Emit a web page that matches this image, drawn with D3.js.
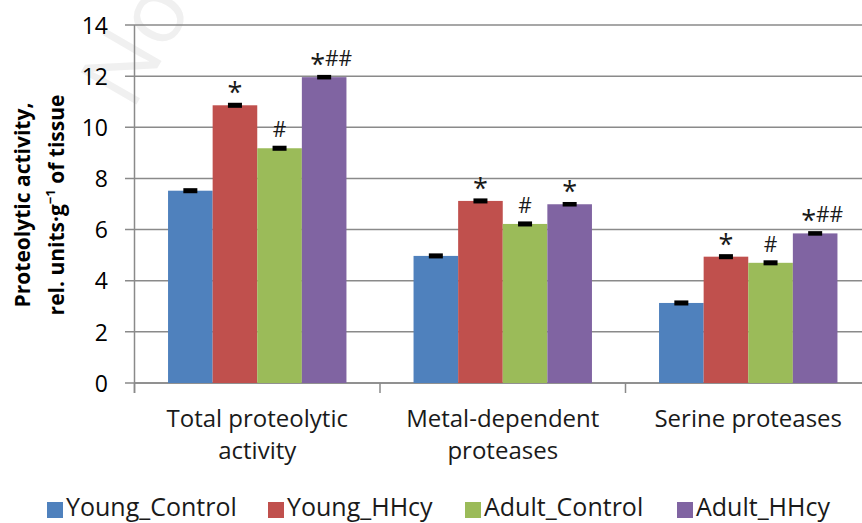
<!DOCTYPE html>
<html>
<head>
<meta charset="utf-8">
<script src="https://cdn.jsdelivr.net/npm/d3@7"></script>
<style>
  html, body { margin: 0; padding: 0; background: #fff; }
  svg { display: block; }
  text { font-family: "Open Sans", "Liberation Sans", sans-serif; }
</style>
</head>
<body>
<svg id="chart" width="862" height="523"></svg>
<script>
// ---- Data ----
const categories = ["Total proteolytic activity", "Metal-dependent proteases", "Serine proteases"];
const categoryLines = [["Total proteolytic", "activity"], ["Metal-dependent", "proteases"], ["Serine proteases"]];
const series = ["Young_Control", "Young_HHcy", "Adult_Control", "Adult_HHcy"];
const youngControl = [7.52, 4.97, 3.13];
const youngHHcy    = [10.86, 7.12, 4.94];
const adultControl = [9.18, 6.22, 4.70];
const adultHHcy    = [11.96, 6.99, 5.85];
const errYoungControl = [0.04, 0.04, 0.04];
const errYoungHHcy    = [0.04, 0.04, 0.04];
const errAdultControl = [0.04, 0.04, 0.04];
const errAdultHHcy    = [0.03, 0.03, 0.03];
const sigYoungControl = ["", "", ""];
const sigYoungHHcy    = ["*", "*", "*"];
const sigAdultControl = ["#", "#", "#"];
const sigAdultHHcy    = ["*##", "*", "*##"];
const yTicks = [0, 2, 4, 6, 8, 10, 12, 14];
const colors = ["#4F81BD", "#C0504D", "#9BBB59", "#8064A2"];

const values = [youngControl, youngHHcy, adultControl, adultHHcy];
const errors = [errYoungControl, errYoungHHcy, errAdultControl, errAdultHHcy];
const sigs = [sigYoungControl, sigYoungHHcy, sigAdultControl, sigAdultHHcy];

// ---- Layout ----
const W = 862, H = 523;
const axisX = 134.5, plotTop = 25, plotBottom = 383;
const svg = d3.select("#chart");

const y = d3.scaleLinear().domain([0, 14]).range([plotBottom, plotTop]);
const x0 = d3.scaleBand().domain(categories).range([axisX, axisX + 3 * 245.5]);
const x1 = d3.scaleBand().domain(series).range([0, x0.bandwidth()]).paddingInner(0).paddingOuter(0.752);

// watermark
svg.append("text")
  .attr("transform", "translate(132,112) rotate(-60)")
  .attr("font-size", 90)
  .attr("fill", "#f0f0f0")
  .text("Non");

// gridlines
svg.append("g").selectAll("line").data(yTicks).join("line")
  .attr("x1", 125).attr("x2", W)
  .attr("y1", d => y(d)).attr("y2", d => y(d))
  .attr("stroke", "#8a8a8a").attr("stroke-width", 1.5);

// y axis labels
const yAxis = d3.axisLeft(y).tickValues(yTicks).tickSize(0).tickPadding(0).tickFormat(d3.format("d"));
const gy = svg.append("g").attr("transform", `translate(108,0)`).call(yAxis);
gy.select(".domain").remove();
gy.selectAll("text")
  .attr("font-family", "'Open Sans', sans-serif")
  .attr("font-size", 23).attr("fill", "#000").attr("dy", "0.36em");

// y axis line
svg.append("line").attr("x1", axisX).attr("x2", axisX).attr("y1", plotTop).attr("y2", plotBottom + 10)
  .attr("stroke", "#8a8a8a").attr("stroke-width", 1.5);

// x axis
const boundaries = categories.map(c => x0(c));
svg.append("line").attr("x1", axisX).attr("x2", W).attr("y1", plotBottom).attr("y2", plotBottom)
  .attr("stroke", "#8a8a8a").attr("stroke-width", 1.5);
svg.append("g").selectAll("line").data(boundaries).join("line")
  .attr("x1", d => d).attr("x2", d => d).attr("y1", plotBottom).attr("y2", plotBottom + 10)
  .attr("stroke", "#8a8a8a").attr("stroke-width", 1.5);

// bars
const groups = svg.append("g").selectAll("g").data(categories).join("g")
  .attr("transform", c => `translate(${x0(c)},0)`);

groups.each(function(c, ci) {
  const g = d3.select(this);
  series.forEach((s, si) => {
    const v = values[si][ci];
    const e = errors[si][ci];
    const bx = x1(s), bw = x1.bandwidth();
    g.append("rect")
      .attr("x", bx).attr("y", y(v))
      .attr("width", bw).attr("height", y(0) - y(v))
      .attr("fill", colors[si]);
    // error bar
    const cx = bx + bw / 2;
    g.append("rect")
      .attr("x", cx - 7).attr("y", y(v + e) - 1.5)
      .attr("width", 14).attr("height", Math.max(3, y(v - e) - y(v + e) + 3))
      .attr("fill", "#000");
    // significance
    const sig = sigs[si][ci];
    if (sig) {
      const t = g.append("text")
        .attr("y", y(v) - 11)
        .attr("fill", "#1a1a1a");
      if (sig.length > 1) {
        t.attr("x", cx - 14).attr("text-anchor", "start");
      } else {
        t.attr("x", cx).attr("text-anchor", "middle");
      }
      let shifted = false;
      for (const ch of sig) {
        const ts = t.append("tspan").text(ch);
        if (ch === "*") {
          ts.attr("font-size", 27).attr("dy", shifted ? 0 : 8);
          shifted = true;
        } else {
          ts.attr("font-size", 21).attr("dy", shifted ? -8 : 0);
          shifted = false;
        }
      }
    }
  });
});

// category labels
svg.append("g").selectAll("text").data(categories).join("text")
  .attr("text-anchor", "middle")
  .attr("font-size", 24)
  .attr("fill", "#1a1a1a")
  .each(function(c, i) {
    const t = d3.select(this);
    categoryLines[i].forEach((line, li) => {
      t.append("tspan").attr("x", x0(c) + x0.bandwidth() / 2).attr("y", 427 + li * 31.5).text(line);
    });
  });

// y axis title
const title = svg.append("g").attr("transform", "translate(0,205) rotate(-90)");
title.append("text").attr("x", 0).attr("y", 30)
  .attr("text-anchor", "middle").attr("font-weight", "bold").attr("font-size", 21)
  .text("Proteolytic activity,");
const t2 = title.append("text").attr("x", 0).attr("y", 64)
  .attr("text-anchor", "middle").attr("font-weight", "bold").attr("font-size", 21);
t2.append("tspan").text("rel. units·g");
t2.append("tspan").attr("font-size", 13).attr("dy", -9).text("−1");
t2.append("tspan").attr("dy", 9).text(" of tissue");

// legend
const legendX = [47, 268, 465, 677];
const leg = svg.append("g").selectAll("g").data(series).join("g")
  .attr("transform", (d, i) => `translate(${legendX[i]},0)`);
leg.append("rect").attr("x", 0).attr("y", 502).attr("width", 16).attr("height", 16)
  .attr("fill", (d, i) => colors[i]);
leg.append("text").attr("x", 19).attr("y", 516)
  .attr("font-size", 25).attr("fill", "#1a1a1a")
  .text(d => d);
</script>
</body>
</html>
